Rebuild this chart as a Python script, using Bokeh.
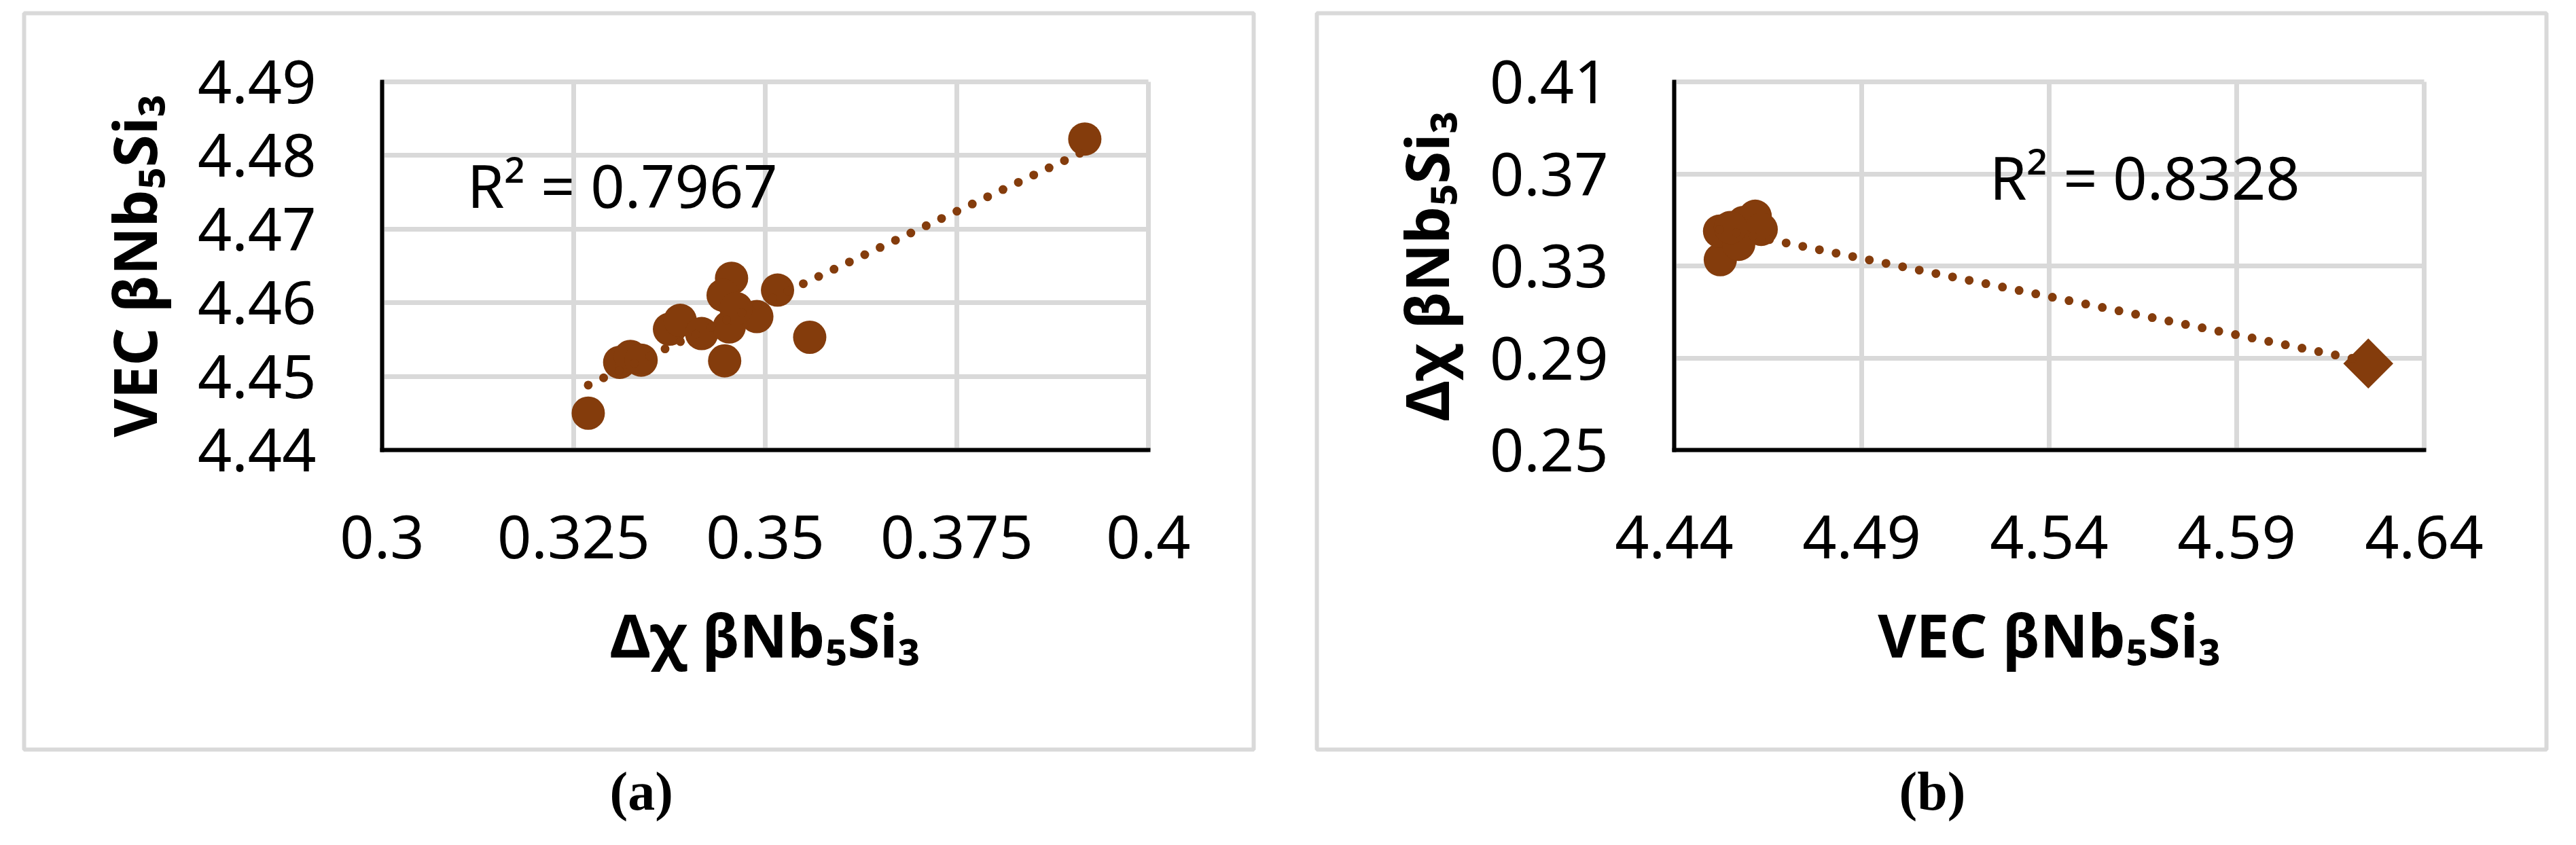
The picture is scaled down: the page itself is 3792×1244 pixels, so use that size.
import numpy as np
from bokeh.plotting import figure
from bokeh.layouts import row
from bokeh.models import Range1d, FixedTicker, Label, Title, Grid
from bokeh.embed import file_html
from bokeh.resources import INLINE

# ---------------- data: panel (a) ----------------
a_dchi = [0.3269, 0.3917, 0.3310, 0.3324, 0.3338, 0.3375, 0.3389, 0.3417,
          0.3447, 0.3456, 0.3445, 0.3453, 0.3489, 0.3516, 0.3558, 0.3462]
a_vec = [4.4450, 4.4822, 4.4519, 4.4527, 4.4522, 4.4564, 4.4576, 4.4558,
         4.4521, 4.4633, 4.4610, 4.4567, 4.4581, 4.4617, 4.4553, 4.4592]
a_r2 = "R² = 0.7967"
a_xticks = [0.3, 0.325, 0.35, 0.375, 0.4]
a_xtick_labels = ["0.3", "0.325", "0.35", "0.375", "0.4"]
a_yticks = [4.44, 4.45, 4.46, 4.47, 4.48, 4.49]
a_ytick_labels = ["4.44", "4.45", "4.46", "4.47", "4.48", "4.49"]
a_xtitle = "Δχ βNb₅Si₃"
a_ytitle = "VEC βNb₅Si₃"
a_caption = "(a)"

# ---------------- data: panel (b) ----------------
b_vec_circles = [4.4523, 4.4521, 4.4585, 4.4616, 4.4632, 4.4572, 4.4550]
b_dchi_circles = [0.3327, 0.3451, 0.3489, 0.3516, 0.3459, 0.3394, 0.3467]
b_vec_diamond = [4.6251]
b_dchi_diamond = [0.2876]
b_r2 = "R² = 0.8328"
b_xticks = [4.44, 4.49, 4.54, 4.59, 4.64]
b_xtick_labels = ["4.44", "4.49", "4.54", "4.59", "4.64"]
b_yticks = [0.25, 0.29, 0.33, 0.37, 0.41]
b_ytick_labels = ["0.25", "0.29", "0.33", "0.37", "0.41"]
b_xtitle = "VEC βNb₅Si₃"
b_ytitle = "Δχ βNb₅Si₃"
b_caption = "(b)"

BROWN = "#843C0C"
GRID = "#D9D9D9"
SANS = "Noto Sans"
SERIF = "Liberation Serif"

HAS_CROSS = "cross_bounds" in Grid.properties()


def make_panel(xticks, xlabels, yticks, ylabels, xtitle, ytitle, caption,
               frame_left, frame_top, frame_w, frame_h, border_right,
               border_bottom, plot_px, r2, r2_pos, cap_offset):
    """plot_px = (left, right, top, bottom) of the chart area in canvas px."""
    x0, x1 = xticks[0], xticks[-1]
    y0, y1 = yticks[0], yticks[-1]
    pl, pr, pt, pb = plot_px
    fr = frame_left + frame_w
    fb = frame_top + frame_h
    sx = (x1 - x0) / (pr - pl)
    sy = (y1 - y0) / (pb - pt)
    xr = Range1d(x0 + (frame_left - pl) * sx, x0 + (fr - pl) * sx)
    yr = Range1d(y0 - (fb - pb) * sy, y1 + (pt - frame_top) * sy)

    p = figure(output_backend="svg", toolbar_location=None,
               frame_width=frame_w, frame_height=frame_h,
               min_border_left=frame_left, min_border_right=border_right,
               min_border_top=frame_top, min_border_bottom=border_bottom,
               x_range=xr, y_range=yr,
               background_fill_color="white", border_fill_color="white",
               outline_line_color=GRID, outline_line_width=6)

    xa, ya = p.xaxis[0], p.yaxis[0]
    xa.fixed_location = y0
    ya.fixed_location = x0
    xa.bounds = (x0, x1)
    ya.bounds = (y0, y1)
    for ax, ticks, labels in ((xa, xticks, xlabels), (ya, yticks, ylabels)):
        ax.ticker = FixedTicker(ticks=ticks)
        ax.major_label_overrides = {t: l for t, l in zip(ticks, labels)}
        ax.major_tick_in = 0
        ax.major_tick_out = 0
        ax.minor_tick_in = 0
        ax.minor_tick_out = 0
        ax.axis_line_color = "black"
        ax.axis_line_width = 6
        ax.axis_line_cap = "square"
        ax.major_label_text_font = SANS
        ax.major_label_text_font_size = "88px"
        ax.major_label_text_color = "black"
        ax.axis_label_text_font = SANS
        ax.axis_label_text_font_style = "bold"
        ax.axis_label_text_font_size = "87px"
        ax.axis_label_text_color = "black"
    xa.axis_label = xtitle
    ya.axis_label = ytitle
    xa.major_label_standoff = 96
    ya.major_label_standoff = 97
    xa.axis_label_standoff = 50
    ya.axis_label_standoff = 32

    xg, yg = p.xgrid[0], p.ygrid[0]
    xg.ticker = FixedTicker(ticks=xticks)
    yg.ticker = FixedTicker(ticks=yticks)
    if HAS_CROSS:
        xg.bounds = (x0, x1)
        xg.cross_bounds = (y0, y1)
        yg.bounds = (y0, y1)
        yg.cross_bounds = (x0, x1)
        for g in (xg, yg):
            g.grid_line_color = GRID
            g.grid_line_width = 7
    else:
        xg.visible = False
        yg.visible = False
        p.segment(x0=xticks, y0=[y0] * len(xticks), x1=xticks, y1=[y1] * len(xticks),
                  line_color=GRID, line_width=7, level="underlay")
        p.segment(x0=[x0] * len(yticks), y0=yticks, x1=[x1] * len(yticks), y1=yticks,
                  line_color=GRID, line_width=7, level="underlay")

    # R² annotation
    p.add_layout(Label(x=r2_pos[0], y=r2_pos[1], text=r2, text_font=SANS,
                       text_font_size="88px", text_color="black",
                       text_align="left", text_baseline="alphabetic"))

    # (a)/(b) caption below the panel box
    p.add_layout(Title(text=caption, align="left", offset=cap_offset,
                       vertical_align="top", standoff=34,
                       text_font=SERIF, text_font_size="80px",
                       text_font_style="bold", text_color="black"), "below")
    return p


def trend(p, xs, ys):
    xs = np.asarray(xs, float)
    ys = np.asarray(ys, float)
    k, b = np.polyfit(xs, ys, 1)
    tx = np.array([xs.min(), xs.max()])
    p.line(tx, k * tx + b, line_color=BROWN, line_width=13,
           line_dash="0 25", line_cap="round")


# ---------------- panel (a) ----------------
pa = make_panel(a_xticks, a_xtick_labels, a_yticks, a_ytick_labels,
                a_xtitle, a_ytitle, a_caption,
                frame_left=35, frame_top=19, frame_w=1810, frame_h=1084,
                border_right=47, border_bottom=130,
                plot_px=(562, 1690, 119.5, 662), r2=a_r2,
                r2_pos=(0.3111, 4.4760), cap_offset=862)
pa.scatter(a_dchi, a_vec, marker="circle", size=49, fill_color=BROWN,
           line_color=BROWN, line_width=0)
trend(pa, a_dchi, a_vec)

# ---------------- panel (b) ----------------
pb = make_panel(b_xticks, b_xtick_labels, b_yticks, b_ytick_labels,
                b_xtitle, b_ytitle, b_caption,
                frame_left=46, frame_top=19, frame_w=1810, frame_h=1084,
                border_right=28, border_bottom=130,
                plot_px=(572, 1676, 120, 662), r2=b_r2,
                r2_pos=(4.5241, 0.3688), cap_offset=857)
pb.scatter(b_vec_circles, b_dchi_circles, marker="circle", size=49,
           fill_color=BROWN, line_color=BROWN, line_width=0)
pb.scatter(b_vec_diamond, b_dchi_diamond, marker="square", size=52,
           angle=np.pi / 4, fill_color=BROWN, line_color=BROWN, line_width=0)
trend(pb, b_vec_circles + b_vec_diamond, b_dchi_circles + b_dchi_diamond)

layout = row(pa, pb)
open("out.html", "w").write(file_html(layout, INLINE))
